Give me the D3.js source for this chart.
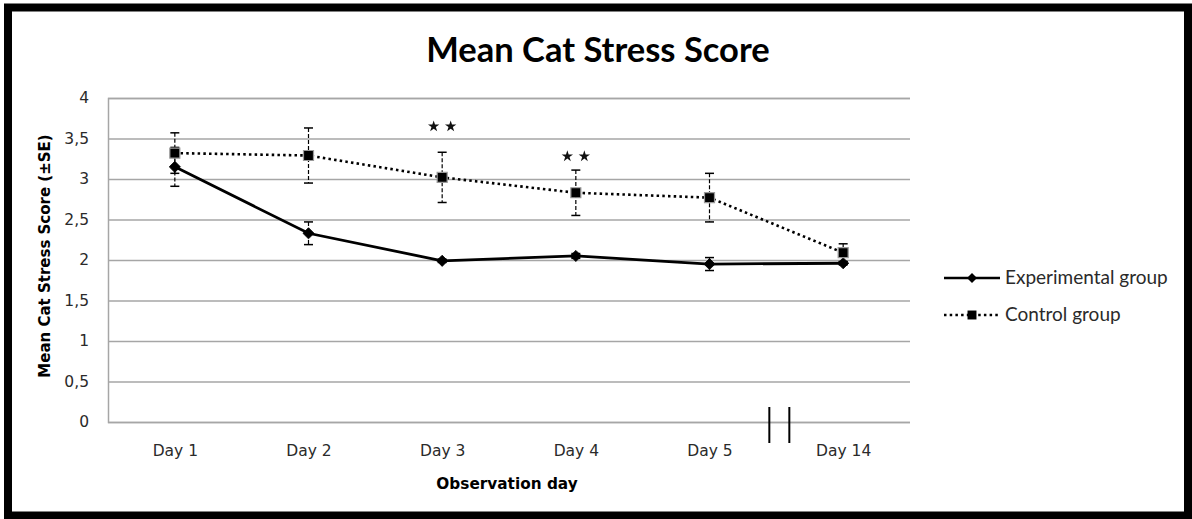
<!DOCTYPE html>
<html>
<head>
<meta charset="utf-8">
<script src="https://cdn.jsdelivr.net/npm/d3@7"></script>
<style>
  html, body { margin: 0; padding: 0; background: #fff; }
  svg { display: block; }
</style>
</head>
<body>
<svg id="chart" width="1192" height="519"></svg>
<script>
// Observation days (Day 14 follows a break in the axis)
const days = ["Day 1", "Day 2", "Day 3", "Day 4", "Day 5", "Day 14"];

// Mean stress scores and standard errors per group
const experimental   = [3.15, 2.33, 1.99, 2.05, 1.95, 1.96];
const experimentalSE = [0.24, 0.14, 0.02, 0.03, 0.08, 0.02];
const control        = [3.32, 3.29, 3.02, 2.83, 2.77, 2.09];
const controlSE      = [0.25, 0.34, 0.31, 0.28, 0.30, 0.11];

// Significance markers (two stars) and their heights
const sigDays   = ["Day 3", "Day 4"];
const sigLevels = [3.65, 3.28];

const yTicks = [0, 0.5, 1, 1.5, 2, 2.5, 3, 3.5, 4];

const svg = d3.select("#chart");
const plot = { left: 108, right: 910, top: 98, bottom: 422 };

const x = d3.scalePoint().domain(days).range([plot.left, plot.right]).padding(0.5);
const y = d3.scaleLinear().domain([0, 4]).range([plot.bottom, plot.top]);

const textColor = "#2a2a2a";
const gridColor = "#a6a6a6";
const labelFont = "'DejaVu Sans', Verdana, sans-serif";
const titleFont = "Lato, 'Open Sans', sans-serif";

// Outer frame
svg.append("rect")
  .attr("x", 8).attr("y", 7.5)
  .attr("width", 1180).attr("height", 508)
  .attr("fill", "#fff")
  .attr("stroke", "#000")
  .attr("stroke-width", 8);

// Title
svg.append("text")
  .attr("x", 598).attr("y", 62)
  .attr("text-anchor", "middle")
  .attr("font-family", titleFont)
  .attr("font-weight", "bold")
  .attr("font-size", 34.5)
  .attr("fill", "#000")
  .text("Mean Cat Stress Score");

// Y axis with gridlines
const yAxis = svg.append("g")
  .attr("transform", `translate(${plot.left},0)`)
  .call(d3.axisLeft(y)
    .tickValues(yTicks)
    .tickSize(-(plot.right - plot.left))
    .tickPadding(19)
    .tickFormat(d => String(d).replace(".", ",")));
yAxis.select(".domain").attr("stroke", gridColor).attr("stroke-width", 1.5);
yAxis.selectAll(".tick line").attr("stroke", gridColor).attr("stroke-width", 1.5);
yAxis.selectAll(".tick text")
  .attr("font-family", labelFont)
  .attr("font-size", 15.5)
  .attr("fill", textColor);

// X axis labels
const xAxis = svg.append("g")
  .attr("transform", `translate(0,${plot.bottom})`)
  .call(d3.axisBottom(x).tickSize(0).tickPadding(23));
xAxis.select(".domain").remove();
xAxis.selectAll(".tick text")
  .attr("font-family", labelFont)
  .attr("font-size", 15.5)
  .attr("fill", textColor);

// Axis break between Day 5 and Day 14
const breakMid = (x("Day 5") + x("Day 14")) / 2 + 3;
[-10, 10].forEach(off => {
  svg.append("line")
    .attr("x1", breakMid + off).attr("x2", breakMid + off)
    .attr("y1", plot.bottom - 15).attr("y2", plot.bottom + 21)
    .attr("stroke", "#000").attr("stroke-width", 2);
});

// Axis titles
svg.append("text")
  .attr("transform", `translate(50,${(plot.top + plot.bottom) / 2 - 4}) rotate(-90)`)
  .attr("text-anchor", "middle")
  .attr("font-family", labelFont)
  .attr("font-weight", "bold")
  .attr("font-size", 15)
  .attr("fill", "#000")
  .text("Mean Cat Stress Score (±SE)");

svg.append("text")
  .attr("x", 507).attr("y", 489)
  .attr("text-anchor", "middle")
  .attr("font-family", labelFont)
  .attr("font-weight", "bold")
  .attr("font-size", 15.3)
  .attr("fill", "#000")
  .text("Observation day");

// Series definitions (diamond = square turned 45 degrees)
const series = [
  { name: "Experimental group", values: experimental, se: experimentalSE, dash: null, symbol: d3.symbolSquare, size: 62, rotate: 45 },
  { name: "Control group", values: control, se: controlSE, dash: "2.5,3.2", symbol: d3.symbolSquare, size: 100, rotate: 0 }
];

const line = d3.line().x((d, i) => x(days[i])).y(d => y(d));

// Error bars
series.forEach(s => {
  const g = svg.append("g");
  s.values.forEach((v, i) => {
    const cx = x(days[i]);
    const top = y(v + s.se[i]), bot = y(v - s.se[i]);
    g.append("line")
      .attr("x1", cx).attr("x2", cx).attr("y1", top).attr("y2", bot)
      .attr("stroke", "#000").attr("stroke-width", 1.2)
      .attr("stroke-dasharray", "4,2");
    [top, bot].forEach(yy => {
      g.append("line")
        .attr("x1", cx - 4.5).attr("x2", cx + 4.5).attr("y1", yy).attr("y2", yy)
        .attr("stroke", "#000").attr("stroke-width", 1.5);
    });
  });
});

// Lines and markers
series.forEach(s => {
  svg.append("path")
    .datum(s.values)
    .attr("d", line)
    .attr("fill", "none")
    .attr("stroke", "#000")
    .attr("stroke-width", s.dash ? 2.6 : 2.8)
    .attr("stroke-dasharray", s.dash);
  svg.append("g").selectAll("path")
    .data(s.values)
    .join("path")
    .attr("transform", (d, i) => `translate(${x(days[i])},${y(d)}) rotate(${s.rotate})`)
    .attr("d", d3.symbol().type(s.symbol).size(s.size))
    .attr("fill", "#000")
    .attr("stroke", s.dash ? "#9a9a9a" : "#000")
    .attr("stroke-width", s.dash ? 1.2 : 0.8);
});

// Significance stars
sigDays.forEach((d, i) => {
  [-8.5, 8.5].forEach(off => {
    svg.append("path")
      .attr("transform", `translate(${x(d) + off},${y(sigLevels[i])})`)
      .attr("d", d3.symbol().type(d3.symbolStar).size(40))
      .attr("fill", "#111");
  });
});

// Legend
const legend = svg.append("g");
series.forEach((s, i) => {
  const ly = 278 + i * 37;
  legend.append("line")
    .attr("x1", 944).attr("x2", 1000).attr("y1", ly).attr("y2", ly)
    .attr("stroke", "#000")
    .attr("stroke-width", s.dash ? 2.4 : 2.6)
    .attr("stroke-dasharray", s.dash);
  legend.append("path")
    .attr("transform", `translate(972,${ly}) rotate(${s.rotate})`)
    .attr("d", d3.symbol().type(s.symbol).size(s.size * 0.8))
    .attr("fill", "#000");
  legend.append("text")
    .attr("x", 1005).attr("y", ly + 6)
    .attr("font-family", titleFont)
    .attr("font-size", 19)
    .attr("fill", textColor)
    .text(s.name);
});
</script>
</body>
</html>
